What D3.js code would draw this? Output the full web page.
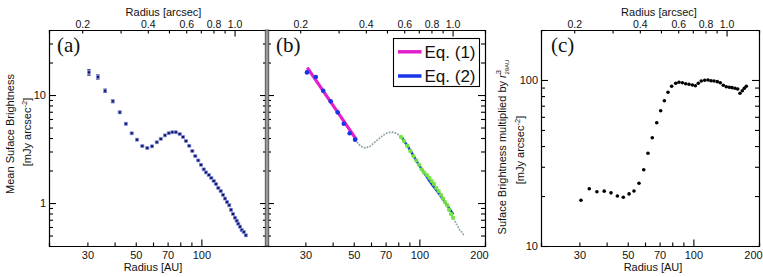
<!DOCTYPE html>
<html><head><meta charset="utf-8">
<script src="https://cdn.jsdelivr.net/npm/d3@7"></script>
<style>
body{margin:0;background:#fff}
svg{display:block;font-family:"Liberation Sans",Arial,Helvetica,sans-serif}
</style></head><body>
<svg id="chart" width="763" height="277"></svg>
<script>
// ---------------- data ----------------
const radiusAU = [30.5,33.5,36.2,39.2,42.2,45.0,47.9,50.7,53.6,56.5,59.4,62.4,65.1,68.0,70.8,73.6,76.3,79.5,82.4,85.0,88.0,90.9,93.8,96.8,99.6,102.5,105.0,108.1,111.1,113.9,116.7,119.6,122.6,125.7,128.3,131.1,134.3,136.8,139.7,142.6,145.2,147.7,150.4,153.1,156.4,159.8];
const meanSB = [16.2,14.7,10.96,8.74,6.91,5.42,4.42,3.86,3.37,3.23,3.35,3.65,3.93,4.23,4.43,4.52,4.52,4.35,4.09,3.75,3.39,3.03,2.72,2.48,2.26,2.05,1.92,1.82,1.71,1.60,1.50,1.38,1.29,1.19,1.10,1.02,0.953,0.867,0.791,0.731,0.686,0.643,0.604,0.562,0.539,0.502];
const meanSBErr = [0.95,0.65,0.38,0.25,0.16,0.11,0.08,0.06,0.05,0.05,0.05,0.05,0.05,0.05,0.05,0.05,0.05,0.05,0.05,0.04,0.04,0.04,0.03,0.03,0.03,0.03,0.03,0.03,0.02,0.02,0.02,0.02,0.02,0.02,0.02,0.02,0.02,0.02,0.01,0.01,0.01,0.01,0.01,0.01,0.01,0.01];
// panel (b): which points were used for each fit
const innerFitCount = 8;          // first points, fitted by Eq. (1)
const outerFitStart = 18;         // points fitted by Eq. (2)
const outerFitEnd = 40;
const eq1Radius = [30.6, 51.6];
const eq1Value = [17.9, 3.83];
const eq2Radius = [83.2, 90.6, 100.7, 111.9, 124.3, 143.1];
const eq2Value = [4.06, 3.10, 2.17, 1.575, 1.186, 0.786];
// panel (c): surface brightness multiplied by r^3 (normalised at 29 AU)
const radiusC = [30.5,33.3,36.1,39.0,41.9,44.8,47.7,50.7,53.4,56.3,59.2,61.9,64.8,67.9,70.8,73.6,76.5,79.5,83.0,85.9,89.0,92.2,95.5,98.9,102.1,105.3,108.7,112.7,116.7,120.4,124.3,128.7,132.9,137.2,141.6,146.1,150.4,155.2,159.7,163.6,167.7,171.3,174.9];
const sbR3 = [18.85,22.1,21.2,21.4,20.9,20.0,19.65,20.6,21.45,23.9,28.8,36.2,44.9,55.3,65.3,75.0,84.4,91.6,95.5,96.9,96.3,95.0,94.2,93.3,92.4,95.5,98.6,99.6,100,99.0,98.6,97.7,96.3,92.9,91.1,90.4,89.9,89.1,88.3,83.2,86.2,89.1,91.6];
// axes
const auTicks = [20,30,40,50,60,70,80,90,100,200];
const auLabelsA = [30,50,70,100];
const auLabelsBC = [30,50,70,100,200];
const arcsecTicks = [0.2,0.3,0.4,0.5,0.6,0.7,0.8,0.9,1.0];
const arcsecLabels = [0.2,0.4,0.6,0.8,1.0];
const distancePc = 142;   // AU per arcsec
const sbTicks = [0.4,0.5,0.6,0.7,0.8,0.9,1,2,3,4,5,6,7,8,9,10,20,30,40];
const sbLabels = [1,10];
const r3Ticks = [10,20,30,40,50,60,70,80,90,100,200];
const r3Labels = [10,100];
const legendLabels = ["Eq. (1)", "Eq. (2)"];

// ---------------- layout ----------------
const svg = d3.select("#chart");
const plotTop = 30, plotBottom = 246;
const panels = {a:{x0:49,x1:267}, b:{x0:267,x1:485}, c:{x0:541,x1:759}};
const FONT = '"Liberation Sans",Arial,Helvetica,sans-serif';
const SERIF = '"Liberation Serif","Times New Roman",Times,serif';
const col = {mag:"#e21fcf", blue:"#1736e8", green:"#74e63c", gray:"#92a8ad", navy:"#14145a"};

const yA = d3.scaleLog().domain([0.4,40]).range([plotBottom, plotTop]);
const yC = d3.scaleLog().domain([10,200]).range([plotBottom, plotTop]);
const isMajor = d => Math.abs(Math.log10(d) - Math.round(Math.log10(d))) < 1e-6;

function xScale(p){ return d3.scaleLog().domain([20,200]).range([p.x0,p.x1]); }

function styleAxis(g, size){
  g.attr("font-family", FONT).attr("font-size", size || 11);
  g.select(".domain").attr("stroke","#000").attr("stroke-width",1.2);
  g.selectAll(".tick line").attr("stroke","#000").attr("stroke-width",1.1);
  g.selectAll(".tick text").attr("fill","#111");
}

function drawFrame(p, y, yTicks, yLabels, xLabels, opts){
  const x = xScale(p);
  const xArc = d3.scaleLog().domain([20/distancePc, 200/distancePc]).range([p.x0,p.x1]);
  const fmtArc = d => arcsecLabels.some(v=>Math.abs(v-d)<1e-9) ? d.toFixed(1) : "";
  const gb = svg.append("g").attr("transform",`translate(0,${plotBottom})`)
    .call(d3.axisBottom(x).tickValues(auTicks).tickSizeOuter(0).tickSize(-3.5)
      .tickFormat(d => xLabels.includes(d) ? d3.format("d")(d) : ""));
  styleAxis(gb);
  gb.selectAll(".tick line").attr("y2", d => isMajor(d) ? -6.5 : -3.5);
  gb.selectAll(".tick text").attr("y", 12.5).attr("dy", 0)
    .attr("dx", d => d === 200 ? -6 : 0);
  const gt = svg.append("g").attr("transform",`translate(0,${plotTop})`)
    .call(d3.axisTop(xArc).tickValues(arcsecTicks).tickSizeOuter(0).tickSize(-3.5).tickFormat(fmtArc));
  styleAxis(gt, 10.5);
  gt.selectAll(".tick line").attr("y2", d => isMajor(d) ? 6.5 : 3.5);
  gt.selectAll(".tick text").attr("y", -2.5).attr("dy", 0);
  const gl = svg.append("g").attr("transform",`translate(${p.x0},0)`)
    .call(d3.axisLeft(y).tickValues(yTicks).tickSizeOuter(0).tickSize(-4)
      .tickFormat(d => (opts.yLabels && yLabels.includes(d)) ? d3.format("d")(d) : ""));
  styleAxis(gl);
  gl.selectAll(".tick line").attr("x2", d => isMajor(d) ? 7 : 4);
  gl.selectAll(".tick text").attr("x", -3).attr("dy", "0.35em");
  const gr = svg.append("g").attr("transform",`translate(${p.x1},0)`)
    .call(d3.axisRight(y).tickValues(yTicks).tickSizeOuter(0).tickSize(-4).tickFormat(""));
  styleAxis(gr);
  gr.selectAll(".tick line").attr("x2", d => isMajor(d) ? -7 : -4);
  return x;
}

// ---------------- panel (a) ----------------
const xa = drawFrame(panels.a, yA, sbTicks, sbLabels, auLabelsA, {yLabels:true});
const ptsA = radiusAU.map((r,i)=>({r, v:meanSB[i], e:meanSBErr[i]}));
const ga = svg.append("g");
ga.selectAll("path.err").data(ptsA).join("path").attr("class","err")
  .attr("d", d => { const X=xa(d.r), y1=yA(d.v+d.e), y2=yA(d.v-d.e);
     return `M${X-1.8},${y1}H${X+1.8}M${X},${y1}V${y2}M${X-1.8},${y2}H${X+1.8}`; })
  .attr("stroke", col.navy).attr("stroke-width",0.9).attr("fill","none");
ga.selectAll("rect").data(ptsA).join("rect")
  .attr("x", d=>xa(d.r)-1.5).attr("y", d=>yA(d.v)-1.5).attr("width",3).attr("height",3)
  .attr("fill", col.navy).attr("stroke","#8d9cf2").attr("stroke-width",0.7);

// ---------------- panel (b) ----------------
const xb = drawFrame(panels.b, yA, sbTicks, sbLabels, auLabelsBC, {yLabels:false});
const gbp = svg.append("g");
const lineB = d3.line().x(d=>xb(d.r)).y(d=>yA(d.v));
gbp.append("path").datum(ptsA.slice(innerFitCount-1))
  .attr("d", lineB).attr("fill","none").attr("stroke", col.gray)
  .attr("stroke-width",1.8).attr("stroke-dasharray","1.8,1.2");
gbp.append("path").datum(eq1Radius.map((r,i)=>({r, v:eq1Value[i]})))
  .attr("d", lineB).attr("fill","none").attr("stroke", col.mag).attr("stroke-width",3.2);
gbp.selectAll("circle.in").data(ptsA.slice(0, innerFitCount)).join("circle").attr("class","in")
  .attr("cx", d=>xb(d.r)).attr("cy", d=>yA(d.v)).attr("r",2.3).attr("fill", col.blue);
const lineB2 = d3.line().x(d=>xb(d.r)).y(d=>yA(d.v)).curve(d3.curveMonotoneX);
gbp.append("path").datum(eq2Radius.map((r,i)=>({r, v:eq2Value[i]})))
  .attr("d", lineB2).attr("fill","none").attr("stroke", col.blue).attr("stroke-width",2.4);
gbp.selectAll("circle.out").data(ptsA.slice(outerFitStart, outerFitEnd)).join("circle").attr("class","out")
  .attr("cx", d=>xb(d.r)).attr("cy", d=>yA(d.v)).attr("r",2.2).attr("fill", col.green).attr("opacity",0.95);

// separator between (a) and (b)
svg.append("rect").attr("x",265.2).attr("y",plotTop).attr("width",3.6).attr("height",plotBottom-plotTop)
  .attr("fill","#9a9a9a").attr("stroke","#333").attr("stroke-width",0.7);

// legend
const lg = svg.append("g");
lg.append("rect").attr("x",393.5).attr("y",38.5).attr("width",86).attr("height",48)
  .attr("fill","#fff").attr("stroke","#000").attr("stroke-width",1.1);
[col.mag, col.blue].forEach((c,i)=>{
  const yy = 51.8 + i*24.2;
  lg.append("line").attr("x1",398).attr("x2",421.5).attr("y1",yy).attr("y2",yy)
    .attr("stroke",c).attr("stroke-width",3.5);
  lg.append("text").attr("x",424.5).attr("y",yy+6.2).attr("font-size",17)
    .attr("fill","#111").text(legendLabels[i]);
});

// ---------------- panel (c) ----------------
const xc = drawFrame(panels.c, yC, r3Ticks, r3Labels, auLabelsBC, {yLabels:true});
svg.append("g").selectAll("circle").data(radiusC.map((r,i)=>({r, v:sbR3[i]}))).join("circle")
  .attr("cx", d=>xc(d.r)).attr("cy", d=>yC(d.v)).attr("r",1.8).attr("fill","#000");

// ---------------- titles ----------------
function txt(x,y,s,size){ return svg.append("text").attr("x",x).attr("y",y)
  .attr("font-size",size).attr("text-anchor","middle").attr("fill","#111").text(s); }
txt(163.5,16,"Radius [arcsec]",11);
txt(659,16,"Radius [arcsec]",11);
txt(153,271,"Radius [AU]",11);
txt(653,271,"Radius [AU]",11);

[["(a)",57,51.5],["(b)",276,51.5],["(c)",551,51.5]].forEach(([s,x,y])=>{
  svg.append("text").attr("x",x).attr("y",y).attr("font-size",21)
    .style("font-family",SERIF).attr("fill","#111").text(s);
});

function yTitle(x, y, parts){
  const t = svg.append("text").attr("transform",`translate(${x},${y}) rotate(-90)`)
    .attr("text-anchor","middle").attr("font-size",11).attr("fill","#111");
  parts.forEach(p=>{
    const ts = t.append("tspan").text(p.s);
    if(p.size) ts.attr("font-size",p.size);
    if(p.dy) ts.attr("dy",p.dy);
    if(p.dx) ts.attr("dx",p.dx);
    if(p.italic) ts.attr("font-style","italic");
  });
  return t;
}
yTitle(13.5,134,[{s:"Mean Suface Brightness"}]);
yTitle(31,132,[{s:"[mJy arcsec"},{s:"-2",size:7.5,dy:-4.5},{s:"]",dy:4.5}]);
yTitle(506,147,[{s:"Suface Brightness multiplied by "},{s:"r",italic:true},
  {s:"3",size:7.5,dy:-5},{s:"29AU",size:6,dy:8,dx:-4.5}]);
yTitle(524,150,[{s:"[mJy arcsec"},{s:"-2",size:7.5,dy:-4.5},{s:"]",dy:4.5}]);
</script>
</body></html>
